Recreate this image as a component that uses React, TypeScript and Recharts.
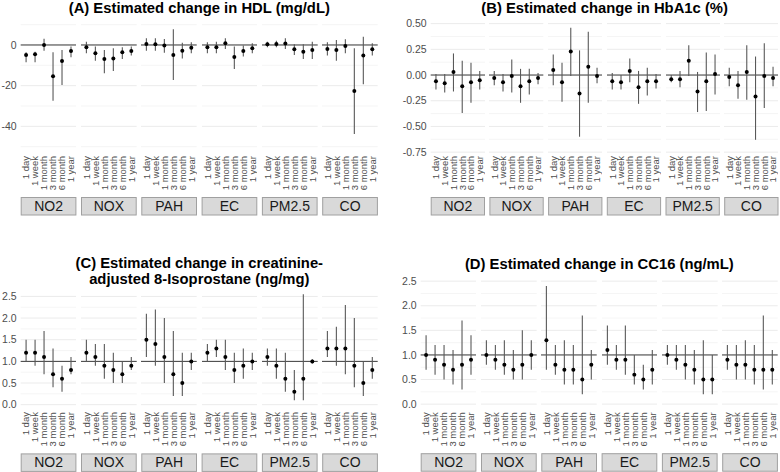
import { ComposedChart, ErrorBar, ReferenceLine, Scatter, XAxis, YAxis } from "recharts";

const periods = ["1 day", "1 week", "1 month", "3 month", "6 month", "1 year"];
const pollutants = ["NO2", "NOX", "PAH", "EC", "PM2.5", "CO"];

// (A) HDL, one row per pollutant (same order as pollutants)
const hdlEst = [
  [-4.9, -4.6, 0, -15.4, -7.9, -3.0],
  [-1.1, -4.1, -6.9, -6.7, -3.6, -3.0],
  [0.5, 0.3, -0.3, -4.9, -2.8, -1.3],
  [-1.1, -1.1, 0.8, -5.9, -3.0, -1.6],
  [0.3, 0.5, 0.7, -2.1, -3.3, -2.5],
  [-2.0, -2.5, -0.5, -22.6, -5.2, -2.1],
];
const hdlLo = [
  [-8.5, -8.5, -2.8, -27.4, -19.7, -6.0],
  [-4.1, -7.7, -13.9, -12.8, -6.9, -5.2],
  [-2.8, -2.8, -3.8, -17.2, -6.6, -4.1],
  [-4.1, -4.1, -2.0, -11.8, -5.7, -4.1],
  [-1.1, -1.1, -2.0, -4.9, -6.9, -6.9],
  [-5.2, -7.7, -4.1, -43.8, -19.3, -5.2],
];
const hdlHi = [
  [-3.6, -3.3, 3.0, -3.6, -2.5, -0.8],
  [1.6, -0.8, -2.5, -1.6, -1.1, -0.8],
  [3.3, 3.3, 3.0, 7.7, 1.1, 1.3],
  [1.3, 1.6, 3.3, -0.8, -0.3, 0.8],
  [1.6, 2.1, 3.3, 0.3, 0.3, 1.6],
  [1.3, 2.5, 2.8, -1.6, 4.1, 0.8],
];

// (B) HbA1c
const hbaEst = [
  [-0.06, -0.08, 0.03, -0.11, -0.07, -0.05],
  [-0.03, -0.07, -0.01, -0.11, -0.06, -0.03],
  [0.05, -0.07, 0.23, -0.18, 0.08, -0.01],
  [-0.06, -0.07, 0.04, -0.12, -0.06, -0.06],
  [-0.04, -0.04, 0.14, -0.16, -0.06, 0.01],
  [-0.02, -0.1, 0.03, -0.21, -0.01, -0.03],
];
const hbaLo = [
  [-0.14, -0.17, -0.16, -0.37, -0.27, -0.14],
  [-0.1, -0.16, -0.17, -0.27, -0.19, -0.09],
  [-0.1, -0.26, -0.01, -0.6, -0.27, -0.08],
  [-0.14, -0.14, -0.07, -0.28, -0.2, -0.13],
  [-0.07, -0.12, -0.01, -0.36, -0.35, -0.19],
  [-0.11, -0.23, -0.24, -0.63, -0.32, -0.11],
];
const hbaHi = [
  [0.01, 0.01, 0.21, 0.14, 0.12, 0.04],
  [0.04, 0.01, 0.15, 0.06, 0.06, 0.02],
  [0.2, 0.12, 0.46, 0.24, 0.42, 0.07],
  [0.02, 0.0, 0.16, 0.04, 0.07, 0.01],
  [0.0, 0.04, 0.29, 0.03, 0.22, 0.2],
  [0.07, 0.04, 0.29, 0.18, 0.31, 0.08],
];

// (C) 8-isoprostane
const isoEst = [
  [1.2, 1.2, 1.1, 0.7, 0.6, 0.8],
  [1.2, 1.1, 0.9, 0.8, 0.7, 0.9],
  [1.5, 1.4, 1.1, 0.7, 0.5, 1.0],
  [1.2, 1.3, 1.1, 0.8, 0.9, 1.0],
  [1.1, 0.9, 0.6, 0.3, 0.6, 1.0],
  [1.3, 1.3, 1.3, 0.9, 0.5, 0.8],
];
const isoLo = [
  [1.0, 0.9, 0.7, 0.4, 0.3, 0.7],
  [1.0, 0.9, 0.6, 0.5, 0.5, 0.8],
  [1.1, 0.9, 0.5, 0.2, 0.2, 0.8],
  [1.0, 1.1, 0.8, 0.5, 0.6, 0.8],
  [0.9, 0.6, 0.3, 0.1, 0.1, 0.95],
  [1.1, 0.9, 0.7, 0.4, 0.2, 0.6],
];
const isoHi = [
  [1.5, 1.5, 1.7, 1.3, 0.9, 1.1],
  [1.5, 1.4, 1.4, 1.2, 1.0, 1.1],
  [2.1, 2.2, 2.0, 1.7, 1.2, 1.2],
  [1.4, 1.5, 1.5, 1.2, 1.3, 1.2],
  [1.3, 1.3, 1.2, 0.8, 2.55, 1.05],
  [1.7, 1.8, 2.3, 2.0, 1.0, 1.1],
];

// (D) CC16
const ccEst = [
  [1.0, 0.9, 0.8, 0.7, 0.8, 0.9],
  [1.0, 0.9, 0.8, 0.7, 0.8, 1.0],
  [1.3, 0.8, 0.7, 0.7, 0.5, 0.8],
  [1.1, 0.9, 0.9, 0.6, 0.5, 0.7],
  [1.0, 0.9, 0.8, 0.7, 0.5, 0.5],
  [0.9, 0.8, 0.8, 0.7, 0.7, 0.7],
];
const ccLo = [
  [0.7, 0.6, 0.5, 0.4, 0.3, 0.6],
  [0.8, 0.7, 0.6, 0.5, 0.5, 0.7],
  [0.7, 0.6, 0.4, 0.4, 0.2, 0.5],
  [0.8, 0.7, 0.6, 0.4, 0.3, 0.4],
  [0.8, 0.7, 0.5, 0.4, 0.2, 0.2],
  [0.7, 0.5, 0.5, 0.4, 0.3, 0.4],
];
const ccHi = [
  [1.4, 1.2, 1.2, 1.1, 1.7, 1.4],
  [1.3, 1.2, 1.3, 1.1, 1.5, 1.3],
  [2.4, 1.2, 1.3, 1.2, 1.8, 1.1],
  [1.6, 1.2, 1.6, 1.0, 0.8, 1.1],
  [1.2, 1.2, 1.2, 1.1, 1.3, 1.0],
  [1.2, 1.2, 1.3, 1.2, 1.8, 1.1],
];

const hdlTicks = [-40, -20, 0];
const hdlMinor = [-50, -30, -10, 10];
const hbaTicks = [-0.75, -0.5, -0.25, 0, 0.25, 0.5];
const hbaMinor = [-0.625, -0.375, -0.125, 0.125, 0.375];
const ratioTicks = [0, 0.5, 1, 1.5, 2, 2.5];
const ratioMinor = [0.25, 0.75, 1.25, 1.75, 2.25];

const FONT = "'Liberation Sans', Arial, Helvetica, sans-serif";
const AXIS_H = 45;
const TOP_PAD = 8;

const panels = [
  {
    title: ["(A) Estimated change in HDL (mg/dL)"], titleY: 12.5,
    est: hdlEst, lo: hdlLo, hi: hdlHi, ticks: hdlTicks, minor: hdlMinor, ref: 0,
    fmt: (v: number) => String(v), domain: [-53.6, 10.8],
    left: 0, axisW: 20.7, facetW: 55.7, gap: 4.6, top: 23, plotH: 131,
  },
  {
    title: ["(B) Estimated change in HbA1c (%)"], titleY: 12.5,
    est: hbaEst, lo: hbaLo, hi: hbaHi, ticks: hbaTicks, minor: hbaMinor, ref: 0,
    fmt: (v: number) => v.toFixed(2), domain: [-0.768, 0.506],
    left: 390, axisW: 40.7, facetW: 54.3, gap: 4.4, top: 23, plotH: 131,
  },
  {
    title: ["(C) Estimated change in creatinine-", "adjusted 8-Isoprostane (ng/mg)"], titleY: 267.8,
    est: isoEst, lo: isoLo, hi: isoHi, ticks: ratioTicks, minor: ratioMinor, ref: 1,
    fmt: (v: number) => v.toFixed(1), domain: [-0.125, 2.625],
    left: 0, axisW: 20.7, facetW: 55.7, gap: 4.6, top: 291.3, plotH: 119.1,
  },
  {
    title: ["(D) Estimated change in CC16 (ng/mL)"], titleY: 268.6,
    est: ccEst, lo: ccLo, hi: ccHi, ticks: ratioTicks, minor: ratioMinor, ref: 1,
    fmt: (v: number) => v.toFixed(1), domain: [-0.125, 2.625],
    left: 390, axisW: 30.7, facetW: 55.7, gap: 4.6, top: 274.9, plotH: 135.3,
  },
];

type PanelDef = (typeof panels)[number];

const rowsFor = (p: PanelDef, k: number) =>
  periods.map((t, i) => ({
    t,
    est: p.est[k][i],
    err: [p.est[k][i] - p.lo[k][i], p.hi[k][i] - p.est[k][i]],
  }));

const RotTick = (props: any) => {
  const { x, y, payload } = props;
  return (
    <text
      x={x}
      y={y}
      transform={`rotate(-90 ${x} ${y})`}
      textAnchor="end"
      dy="0.35em"
      fontSize={9.5}
      fill="#4d4d4d"
    >
      {payload.value}
    </text>
  );
};

const Dot = (props: any) => <circle cx={props.cx} cy={props.cy} r={2} fill="#000" />;

const facetX = (p: PanelDef, k: number) => p.left + p.axisW + k * (p.facetW + p.gap);

function Facet({ p, k }: { p: PanelDef; k: number }) {
  const first = k === 0;
  const w = p.facetW + (first ? p.axisW : 0);
  // ggplot-like discrete expansion: 0.6 of a step on each side
  const pad = (0.6 * p.facetW) / 6.2;
  return (
    <div
      style={{
        position: "absolute",
        left: facetX(p, k) - (first ? p.axisW : 0),
        top: p.top - TOP_PAD,
      }}
    >
      <ComposedChart
        width={w}
        height={p.plotH + AXIS_H + TOP_PAD}
        data={rowsFor(p, k)}
        margin={{ top: TOP_PAD, right: 0, bottom: 0, left: 0 }}
      >
        {p.minor.map((v) => (
          <ReferenceLine key={"m" + v} y={v} stroke="#f3f3f3" strokeWidth={0.8} />
        ))}
        {p.ticks.map((v) => (
          <ReferenceLine key={"M" + v} y={v} stroke="#ebebeb" strokeWidth={1} />
        ))}
        <ReferenceLine y={p.ref} stroke="#3c3c3c" strokeWidth={1} />
        <XAxis
          dataKey="t"
          type="category"
          height={AXIS_H}
          interval={0}
          tickLine={false}
          axisLine={false}
          tickSize={0}
          tickMargin={2}
          padding={{ left: pad, right: pad }}
          tick={<RotTick />}
        />
        <YAxis
          hide={!first}
          width={p.axisW}
          type="number"
          domain={p.domain}
          allowDataOverflow
          ticks={p.ticks}
          interval={0}
          tickFormatter={p.fmt}
          tickLine={false}
          axisLine={false}
          tickSize={0}
          tickMargin={4}
          tick={{ fontSize: 10.5, fill: "#4d4d4d" }}
        />
        <Scatter dataKey="est" fill="#000" isAnimationActive={false} shape={<Dot />}>
          <ErrorBar dataKey="err" direction="y" width={0} stroke="#595959" strokeWidth={1.1} />
        </Scatter>
      </ComposedChart>
    </div>
  );
}

export default function App() {
  return (
    <div
      style={{
        position: "absolute",
        left: 0,
        top: 0,
        width: 780,
        height: 472,
        background: "#fff",
        overflow: "hidden",
        fontFamily: FONT,
      }}
    >
      <svg width={780} height={472} style={{ position: "absolute", left: 0, top: 0 }}>
        {panels.map((p, pi) => {
          const x0 = p.left + p.axisW;
          const x1 = facetX(p, 5) + p.facetW;
          const stripY = p.top + p.plotH + 43;
          return (
            <g key={pi}>
              {p.title.map((line, li) => (
                <text
                  key={li}
                  x={(x0 + x1) / 2}
                  y={p.titleY + li * 16}
                  textAnchor="middle"
                  fontSize={14.8}
                  fontWeight="bold"
                  fill="#000"
                >
                  {line}
                </text>
              ))}
              {pollutants.map((name, k) => (
                <g key={name}>
                  <rect
                    x={facetX(p, k) + 0.5}
                    y={stripY + 0.5}
                    width={p.facetW - 1}
                    height={17.5}
                    fill="#d9d9d9"
                    stroke="#a0a0a0"
                    strokeWidth={1}
                  />
                  <text
                    x={facetX(p, k) + p.facetW / 2}
                    y={stripY + 14}
                    textAnchor="middle"
                    fontSize={14}
                    fill="#1a1a1a"
                  >
                    {name}
                  </text>
                </g>
              ))}
            </g>
          );
        })}
      </svg>
      {panels.map((p, pi) =>
        pollutants.map((name, k) => <Facet key={pi + name} p={p} k={k} />)
      )}
    </div>
  );
}
